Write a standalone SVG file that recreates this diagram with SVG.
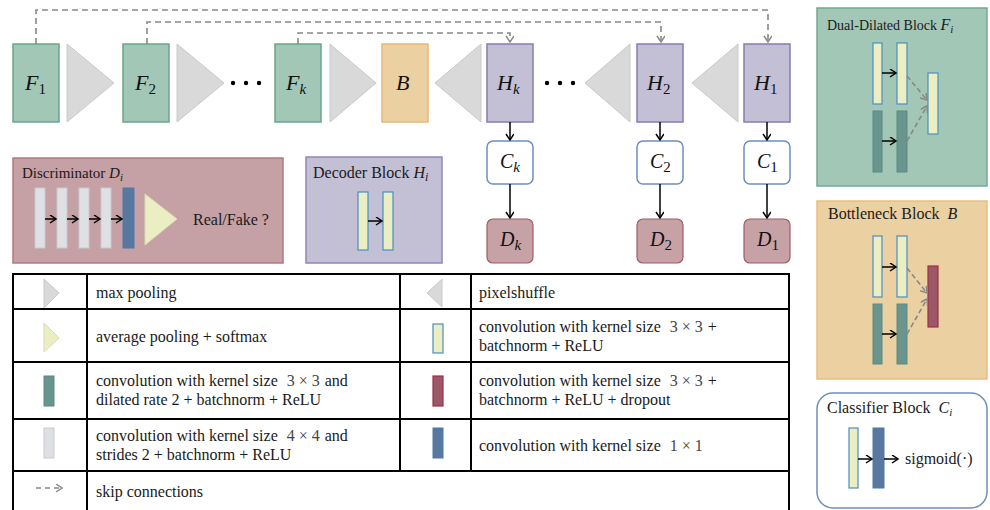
<svg xmlns="http://www.w3.org/2000/svg" width="990" height="510" viewBox="0 0 990 510">
<defs>
<style>
.fbox{fill:#a3c7b6;stroke:#6aa68c;stroke-width:1.5}
.bbox{fill:#ebd0a2;stroke:#e8b878;stroke-width:1.5}
.hbox{fill:#c3bfd4;stroke:#8a7bb0;stroke-width:1.5}
.cbox{fill:#ffffff;stroke:#6c8ebf;stroke-width:1.5}
.dbox{fill:#c6a2a6;stroke:#a05a66;stroke-width:1.2}
.tri{fill:#d9d9d9;stroke:#cacaca;stroke-width:1}
.ytri{fill:#ebeec2;stroke:#d8dcb0;stroke-width:1}
.ybar{fill:#ebeec2;stroke:#4a8ec0;stroke-width:1.2}
.gbar{fill:#6a958e;stroke:#5a8a82;stroke-width:1}
.lbar{fill:#dfe0e4;stroke:#c8c9ce;stroke-width:1}
.rbar{fill:#9a5868;stroke:#a03048;stroke-width:1.2}
.ubar{fill:#5878a0;stroke:#4a7ab0;stroke-width:1}
.lab{font-family:"Liberation Serif",serif;font-style:italic;font-size:22px;fill:#111}
.sub{font-style:normal;font-size:15px}
.subi{font-style:italic;font-size:15px}
.t{font-family:"Liberation Serif",serif;font-size:16px;fill:#1a1a1a}
.m{font-family:"Liberation Serif",serif;font-style:italic}
.math{fill:#444}
.skip{fill:none;stroke:#888;stroke-width:1.6;stroke-dasharray:6 4}
.ln{fill:none;stroke:#000;stroke-width:1.5}
.grid{fill:none;stroke:#000;stroke-width:2}
.dot{fill:#000}
</style>
<marker id="ab" markerWidth="10" markerHeight="10" refX="7" refY="4" orient="auto" markerUnits="userSpaceOnUse">
<path d="M1,0 L7,4 L1,8" fill="none" stroke="#000" stroke-width="1.5"/>
</marker>
<marker id="ag" markerWidth="10" markerHeight="10" refX="7" refY="4" orient="auto" markerUnits="userSpaceOnUse">
<path d="M1,0 L7,4 L1,8" fill="none" stroke="#888" stroke-width="1.5"/>
</marker>
</defs>
<rect width="990" height="510" fill="#fff"/>

<!-- top row -->
<g id="F1"><rect class="fbox" x="13" y="44" width="46" height="78"/><text class="lab" x="25" y="90">F<tspan class="sub" dy="4">1</tspan></text></g>
<g id="pool1"><polygon class="tri" points="67,44 114,83 67,122"/></g>
<g id="F2"><rect class="fbox" x="123" y="44" width="46" height="78"/><text class="lab" x="135" y="90">F<tspan class="sub" dy="4">2</tspan></text></g>
<g id="pool2"><polygon class="tri" points="177,44 224,83 177,122"/></g>
<g id="dots1"><circle class="dot" cx="233" cy="83" r="2.2"/><circle class="dot" cx="246" cy="83" r="2.2"/><circle class="dot" cx="259" cy="83" r="2.2"/></g>
<g id="Fk"><rect class="fbox" x="275" y="44" width="46" height="78"/><text class="lab" x="286" y="90">F<tspan class="subi" dy="4">k</tspan></text></g>
<g id="pool3"><polygon class="tri" points="330,44 376,83 330,122"/></g>
<g id="B"><rect class="bbox" x="382" y="44" width="46" height="78"/><text class="lab" x="396" y="90">B</text></g>
<g id="ps1"><polygon class="tri" points="481,44 435,83 481,122"/></g>
<g id="Hk"><rect class="hbox" x="487" y="44" width="46" height="78"/><text class="lab" x="497" y="90">H<tspan class="subi" dy="4">k</tspan></text></g>
<g id="dots2"><circle class="dot" cx="547" cy="83" r="2.2"/><circle class="dot" cx="560" cy="83" r="2.2"/><circle class="dot" cx="573" cy="83" r="2.2"/></g>
<g id="ps2"><polygon class="tri" points="630,44 585,83 630,122"/></g>
<g id="H2"><rect class="hbox" x="637" y="44" width="46" height="78"/><text class="lab" x="647" y="90">H<tspan class="sub" dy="4">2</tspan></text></g>
<g id="ps3"><polygon class="tri" points="738,44 692,83 738,122"/></g>
<g id="H1"><rect class="hbox" x="744" y="44" width="46" height="78"/><text class="lab" x="754" y="90">H<tspan class="sub" dy="4">1</tspan></text></g>

<g id="Ck"><rect class="cbox" x="487" y="141" width="46" height="43" rx="6"/><text class="lab" x="500" y="168" style="font-size:20px">C<tspan class="subi" dy="4">k</tspan></text></g>
<g id="C2"><rect class="cbox" x="637" y="141" width="46" height="43" rx="6"/><text class="lab" x="650" y="168" style="font-size:20px">C<tspan class="sub" dy="4">2</tspan></text></g>
<g id="C1"><rect class="cbox" x="744" y="141" width="46" height="43" rx="6"/><text class="lab" x="757" y="168" style="font-size:20px">C<tspan class="sub" dy="4">1</tspan></text></g>
<g id="Dk"><rect class="dbox" x="487" y="219" width="46" height="44" rx="6"/><text class="lab" x="500" y="246" style="font-size:20px">D<tspan class="subi" dy="4">k</tspan></text></g>
<g id="D2"><rect class="dbox" x="637" y="219" width="46" height="44" rx="6"/><text class="lab" x="650" y="246" style="font-size:20px">D<tspan class="sub" dy="4">2</tspan></text></g>
<g id="D1"><rect class="dbox" x="744" y="219" width="46" height="44" rx="6"/><text class="lab" x="757" y="246" style="font-size:20px">D<tspan class="sub" dy="4">1</tspan></text></g>

<!-- connectors -->
<g id="connectors">
<path class="skip" d="M36,44 V10 H768 V42" marker-end="url(#ag)"/>
<path class="skip" d="M147,44 V22 H661 V42" marker-end="url(#ag)"/>
<path class="skip" d="M298,44 V33 H510 V42" marker-end="url(#ag)"/>
<path class="ln" d="M510,122 V140" marker-end="url(#ab)"/>
<path class="ln" d="M660,122 V140" marker-end="url(#ab)"/>
<path class="ln" d="M767,122 V140" marker-end="url(#ab)"/>
<path class="ln" d="M510,184 V218" marker-end="url(#ab)"/>
<path class="ln" d="M660,184 V218" marker-end="url(#ab)"/>
<path class="ln" d="M767,184 V218" marker-end="url(#ab)"/>
</g>

<!-- Discriminator panel -->
<g id="discriminator">
<rect x="13" y="158" width="270" height="105" fill="#c5a0a5" stroke="#b27a82" stroke-width="1.5"/>
<text class="t" x="22" y="178" style="font-size:15px">Discriminator <tspan class="m">D<tspan dy="3" style="font-size:11px">i</tspan></tspan></text>
<rect class="lbar" x="35" y="188" width="10" height="60"/>
<rect class="lbar" x="57" y="188" width="10" height="60"/>
<rect class="lbar" x="79" y="188" width="10" height="60"/>
<rect class="lbar" x="101" y="188" width="10" height="60"/>
<rect class="ubar" x="123" y="188" width="11" height="60"/>
<polygon class="ytri" points="145,194 177,219 145,245"/>
<path class="ln" d="M45,219 H56" marker-end="url(#ab)"/>
<path class="ln" d="M67,219 H78" marker-end="url(#ab)"/>
<path class="ln" d="M89,219 H100" marker-end="url(#ab)"/>
<path class="ln" d="M111,219 H122" marker-end="url(#ab)"/>
<text class="t" x="193" y="225">Real/Fake ?</text>
</g>

<!-- Decoder panel -->
<g id="decoder">
<rect x="306" y="157" width="136" height="106" fill="#c3bfd4" stroke="#9584b8" stroke-width="1.5"/>
<text class="t" x="313" y="178">Decoder Block <tspan class="m">H<tspan dy="3" style="font-size:12px">i</tspan></tspan></text>
<rect class="ybar" x="358" y="192" width="10" height="58"/>
<rect class="ybar" x="383" y="192" width="10" height="58"/>
<path class="ln" d="M368,221 H382" marker-end="url(#ab)"/>
</g>

<!-- Dual-Dilated panel -->
<g id="dualdilated">
<rect x="817" y="8" width="170" height="178" fill="#a3c7b6" stroke="#72a892" stroke-width="1.5"/>
<text class="t" x="827" y="30" style="font-size:14px">Dual-Dilated Block <tspan class="m" style="font-size:16px">F<tspan dy="3" style="font-size:11px">i</tspan></tspan></text>
<rect class="ybar" x="873" y="43" width="9" height="61"/>
<rect class="ybar" x="897" y="43" width="10" height="61"/>
<rect class="gbar" x="873" y="111" width="9" height="61"/>
<rect class="gbar" x="897" y="111" width="10" height="61"/>
<rect class="ybar" x="928" y="73" width="10" height="61"/>
<path class="ln" d="M882,73 H896" marker-end="url(#ab)"/>
<path class="ln" d="M882,141 H896" marker-end="url(#ab)"/>
<path class="skip" d="M907,76 L927,100" marker-end="url(#ag)" style="stroke-dasharray:5 3"/>
<path class="skip" d="M907,141 L927,106" marker-end="url(#ag)" style="stroke-dasharray:5 3"/>
</g>

<!-- Bottleneck panel -->
<g id="bottleneck">
<rect x="817" y="201" width="170" height="178" fill="#ebd0a2" stroke="#ecbc80" stroke-width="1.5"/>
<text class="t" x="828" y="219">Bottleneck Block<tspan class="m" dx="8">B</tspan></text>
<rect class="ybar" x="873" y="236" width="9" height="61"/>
<rect class="ybar" x="897" y="236" width="10" height="61"/>
<rect class="gbar" x="873" y="304" width="9" height="60"/>
<rect class="gbar" x="897" y="304" width="10" height="60"/>
<rect class="rbar" x="928" y="266" width="10" height="61"/>
<path class="ln" d="M882,267 H896" marker-end="url(#ab)"/>
<path class="ln" d="M882,334 H896" marker-end="url(#ab)"/>
<path class="skip" d="M907,268 L927,293" marker-end="url(#ag)" style="stroke-dasharray:5 3"/>
<path class="skip" d="M907,334 L927,299" marker-end="url(#ag)" style="stroke-dasharray:5 3"/>
</g>

<!-- Classifier panel -->
<g id="classifier">
<rect x="817" y="393" width="170" height="115" rx="16" fill="#fff" stroke="#6c8ebf" stroke-width="1.5"/>
<text class="t" x="827" y="413">Classifier Block<tspan class="m" dx="8">C<tspan dy="3" style="font-size:11px">i</tspan></tspan></text>
<rect class="ybar" x="849" y="428" width="9" height="60"/>
<rect class="ubar" x="873" y="428" width="11" height="60"/>
<path class="ln" d="M858,459 H872" marker-end="url(#ab)"/>
<path class="ln" d="M884,459 H898" marker-end="url(#ab)"/>
<text class="t" x="905" y="464">sigmoid(·)</text>
</g>

<!-- Legend table -->
<g id="legend">
<rect class="grid" x="13" y="274" width="776" height="240"/>
<path class="grid" d="M13,309 H789 M13,362 H789 M13,419 H789 M13,471 H789 M87,274 V514 M400,274 V471 M471,274 V471"/>
<polygon class="tri" points="44,279 59,293 44,308"/>
<polygon class="ytri" points="44,323 59,338 44,352"/>
<rect class="gbar" x="44" y="376" width="10" height="30"/>
<rect class="lbar" x="44" y="428" width="10" height="30"/>
<path class="skip" d="M36,488 H62" marker-end="url(#ag)" style="stroke-dasharray:5 4"/>
<polygon class="tri" points="442,279 427,293 442,307"/>
<rect class="ybar" x="433" y="324" width="10" height="29"/>
<rect class="rbar" x="433" y="376" width="10" height="30"/>
<rect class="ubar" x="433" y="428" width="10" height="30"/>
<text class="t" x="96" y="298">max pooling</text>
<text class="t" x="96" y="342">average pooling + softmax</text>
<text class="t" x="96" y="386">convolution with kernel size<tspan class="math" dx="9">3 × 3</tspan><tspan dx="5">and</tspan></text>
<text class="t" x="96" y="405">dilated rate 2 + batchnorm + ReLU</text>
<text class="t" x="96" y="441">convolution with kernel size<tspan class="math" dx="9">4 × 4</tspan><tspan dx="5">and</tspan></text>
<text class="t" x="96" y="460">strides 2 + batchnorm + ReLU</text>
<text class="t" x="96" y="497">skip connections</text>
<text class="t" x="479" y="298">pixelshuffle</text>
<text class="t" x="479" y="332">convolution with kernel size<tspan class="math" dx="9">3 × 3</tspan><tspan dx="5">+</tspan></text>
<text class="t" x="479" y="351">batchnorm + ReLU</text>
<text class="t" x="479" y="386">convolution with kernel size<tspan class="math" dx="9">3 × 3</tspan><tspan dx="5">+</tspan></text>
<text class="t" x="479" y="405">batchnorm + ReLU + dropout</text>
<text class="t" x="479" y="451">convolution with kernel size<tspan class="math" dx="9">1 × 1</tspan></text>
</g>
</svg>
